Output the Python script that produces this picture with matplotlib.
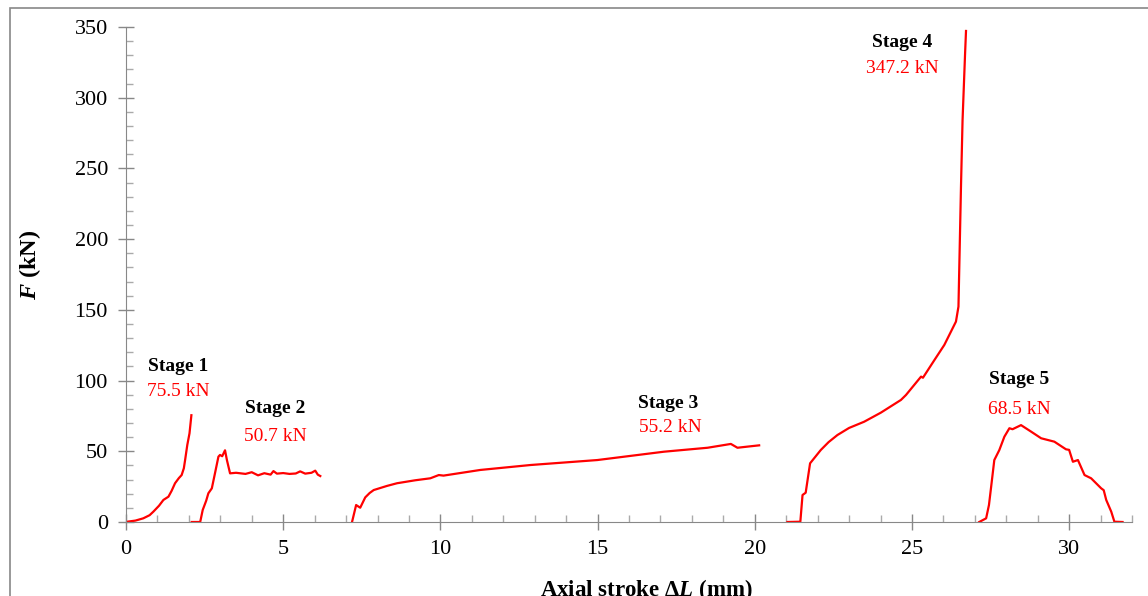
import matplotlib
matplotlib.use('Agg')
import matplotlib.pyplot as plt
from matplotlib.patches import Rectangle
from matplotlib.ticker import MultipleLocator

plt.rcParams['font.family'] = 'Liberation Serif'
plt.rcParams['mathtext.fontset'] = 'custom'
plt.rcParams['mathtext.rm'] = 'Liberation Serif:bold'
plt.rcParams['mathtext.it'] = 'Liberation Serif:bold:italic'

# curves, one per stage (stroke mm, force kN)
s1_x = [0.0, 0.07, 0.3, 0.55, 0.75, 0.87, 1.05, 1.19, 1.35, 1.45, 1.56, 1.68, 1.77, 1.84,
        1.88, 1.95, 2.02, 2.08]
s1_y = [0.0, 0.3, 1.0, 2.6, 4.8, 7.3, 11.5, 15.6, 17.9, 22.0, 27.4, 31.0, 33.2, 38.0,
        43.8, 54.5, 62.7, 75.5]

s2_x = [2.09, 2.36, 2.44, 2.55, 2.62, 2.73, 2.83, 2.94, 2.99, 3.06, 3.15, 3.21, 3.31,
        3.5, 3.8, 4.0, 4.2, 4.4, 4.6, 4.69, 4.8, 5.0, 5.2, 5.4, 5.54, 5.7, 5.9, 6.02, 6.1, 6.18]
s2_y = [0.0, 0.0, 8.5, 15.0, 20.3, 23.8, 34.4, 46.2, 47.4, 46.5, 50.7, 43.8, 34.4,
        34.8, 34.0, 35.2, 33.0, 34.5, 33.5, 36.0, 34.2, 34.6, 34.0, 34.3, 35.8, 34.2, 34.8, 36.3, 33.5, 32.5]

s3_x = [7.19, 7.32, 7.45, 7.61, 7.75, 7.88, 8.3, 8.62, 9.2, 9.68, 9.95, 10.1, 11.27,
        12.87, 14.99, 17.11, 18.5, 19.24, 19.45, 19.77, 20.14]
s3_y = [0.0, 12.0, 10.1, 17.4, 20.5, 22.6, 25.5, 27.4, 29.5, 30.9, 33.2, 32.8, 36.8,
        40.3, 43.8, 49.7, 52.5, 55.2, 52.5, 53.3, 54.2]

s4_x = [21.04, 21.45, 21.52, 21.62, 21.76, 22.1, 22.35, 22.63, 23.0, 23.48, 24.01, 24.65, 24.81,
        25.29, 25.35, 25.7, 26.03, 26.4, 26.48, 26.56, 26.61, 26.69, 26.72]
s4_y = [0.0, 0.2, 19.1, 20.7, 41.5, 50.9, 56.5, 61.5, 66.5, 70.9, 77.3, 86.3, 89.8,
        102.8, 102.0, 114.0, 125.2, 141.7, 152.3, 237.0, 284.0, 331.0, 347.2]

s5_x = [27.14, 27.36, 27.45, 27.52, 27.62, 27.78, 27.94, 28.1, 28.2, 28.47, 28.79, 29.11,
        29.53, 29.9, 30.0, 30.12, 30.28, 30.49, 30.7, 31.02, 31.1, 31.18, 31.34, 31.44, 31.7]
s5_y = [0.0, 2.6, 12.0, 25.0, 43.8, 50.9, 60.3, 66.3, 65.6, 68.5, 63.9, 59.2,
        56.8, 51.4, 51.0, 42.6, 43.8, 33.2, 30.9, 23.8, 22.5, 15.6, 7.3, 0.2, 0.0]

stage_names = ['Stage 1', 'Stage 2', 'Stage 3', 'Stage 4', 'Stage 5']
peak_labels = ['75.5 kN', '50.7 kN', '55.2 kN', '347.2 kN', '68.5 kN']
name_pos = [(1.66, 109.6), (4.75, 80.0), (17.23, 83.5), (24.68, 338.8), (28.41, 101.0)]
peak_pos = [(1.66, 92.0), (4.75, 60.8), (17.32, 67.0), (24.68, 320.4), (28.41, 79.2)]

fig = plt.figure(figsize=(11.48, 5.96), dpi=100)
ax = fig.add_axes([126 / 1148, 74 / 596, 1006 / 1148, 495 / 596])

for xs, ys in [(s1_x, s1_y), (s2_x, s2_y), (s3_x, s3_y), (s4_x, s4_y), (s5_x, s5_y)]:
    ax.plot(xs, ys, color='red', lw=1.6)

for n, p, (nx, ny), (px, py) in zip(stage_names, peak_labels, name_pos, peak_pos):
    ax.text(nx, ny, n, ha='center', va='center', fontsize=14, fontweight='bold', color='black')
    ax.text(px, py, p, ha='center', va='center', fontsize=14, color='red')

ax.set_xlim(0, 32)
ax.set_ylim(0, 350)
ax.xaxis.set_major_locator(MultipleLocator(5))
ax.xaxis.set_minor_locator(MultipleLocator(1))
ax.yaxis.set_major_locator(MultipleLocator(50))
ax.yaxis.set_minor_locator(MultipleLocator(10))
ax.tick_params(which='major', direction='inout', length=12, width=1, color='#888888',
               labelsize=16, pad=7)
ax.tick_params(which='minor', direction='in', length=5, width=1, color='#aaaaaa')
for s in ['top', 'right']:
    ax.spines[s].set_visible(False)
for s in ['left', 'bottom']:
    ax.spines[s].set_color('#888888')

ax.set_xlabel(r'Axial stroke Δ$L$ (mm)', fontsize=16.5, fontweight='bold')
ax.set_ylabel(r'$F$ (kN)', fontsize=17.5, fontweight='bold')
ax.xaxis.set_label_coords(0.517, -0.112)
ax.yaxis.set_label_coords(-0.083, 0.52)

# grey frame round the whole picture
fig.patches.append(Rectangle((10 / 1148, -0.05), 1.05, 1.05 - 8 / 596,
                             transform=fig.transFigure, fill=False, ec='#888888', lw=1.2))

fig.savefig('out.png', dpi=100)
